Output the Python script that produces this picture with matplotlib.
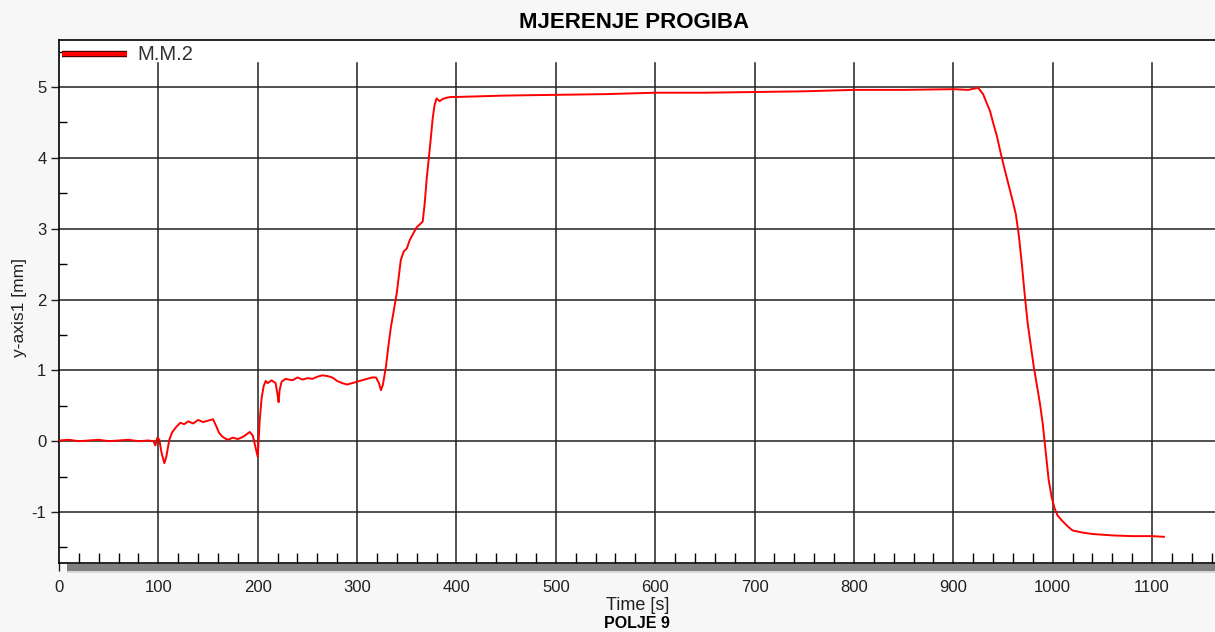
import matplotlib
matplotlib.use("Agg")
import matplotlib.pyplot as plt
import matplotlib.patheffects as pe
from matplotlib.patches import Rectangle
from matplotlib.ticker import MultipleLocator

# ---- data ----
time_s = [0, 10, 20, 30, 40, 50, 60, 70, 80, 90, 95, 97, 99, 101, 103, 106, 108, 111, 114, 118,
          122, 126, 130, 135, 140, 145, 150, 155, 158, 161, 164, 167, 170, 175, 180, 185, 189,
          192, 195, 198, 200, 202, 204, 206, 208, 210, 214, 218, 220, 221, 222, 224, 228, 235,
          240, 245, 250, 255, 260, 265, 270, 275, 280, 285, 290, 295, 300, 305, 310, 315, 319,
          322, 324, 326, 329, 332, 334, 337, 340, 344, 347, 350, 353, 356, 360, 363, 366, 368,
          370, 372, 374, 376, 378, 380, 383, 386, 390, 395, 400, 450, 500, 550, 600, 650, 700,
          750, 800, 850, 900, 915, 925, 930, 934, 937, 940, 944, 948, 952, 956, 960, 963, 966,
          969, 972, 975, 978, 981, 984, 987, 990, 993, 996, 999, 1002, 1005, 1010, 1015, 1020,
          1030, 1040, 1060, 1080, 1100, 1112]
deflection_mm = [0.01, 0.02, 0.00, 0.01, 0.02, 0.00, 0.01, 0.02, 0.00, 0.01, 0.00, -0.06, 0.05, 0.02, -0.15, -0.31, -0.22, 0.02, 0.13, 0.20,
                 0.26, 0.24, 0.28, 0.25, 0.30, 0.27, 0.29, 0.31, 0.22, 0.12, 0.07, 0.04, 0.02, 0.05, 0.03, 0.06, 0.10,
                 0.13, 0.08, -0.10, -0.22, 0.30, 0.62, 0.78, 0.85, 0.82, 0.86, 0.82, 0.65, 0.55, 0.72, 0.84, 0.88, 0.86,
                 0.90, 0.87, 0.89, 0.88, 0.91, 0.93, 0.92, 0.90, 0.85, 0.82, 0.80, 0.82, 0.84, 0.86, 0.88, 0.90, 0.90,
                 0.82, 0.72, 0.80, 1.05, 1.40, 1.61, 1.85, 2.10, 2.56, 2.68, 2.72, 2.84, 2.92, 3.02, 3.06, 3.10, 3.35,
                 3.70, 3.97, 4.25, 4.55, 4.75, 4.84, 4.80, 4.83, 4.85, 4.86, 4.86, 4.88, 4.89, 4.90, 4.92, 4.92, 4.93,
                 4.94, 4.96, 4.96, 4.97, 4.96, 4.99, 4.90, 4.76, 4.66, 4.50, 4.30, 4.05, 3.82, 3.60, 3.38, 3.20, 2.90,
                 2.50, 2.05, 1.65, 1.35, 1.05, 0.80, 0.55, 0.25, -0.15, -0.55, -0.79, -0.95, -1.05, -1.13, -1.20, -1.26,
                 -1.29, -1.31, -1.33, -1.34, -1.34, -1.35]
x_major = [0, 100, 200, 300, 400, 500, 600, 700, 800, 900, 1000, 1100]
y_major = [-1, 0, 1, 2, 3, 4, 5]
series_label = "M.M.2"

plt.rcParams['font.family'] = ['Liberation Sans', 'DejaVu Sans']
plt.rcParams['axes.unicode_minus'] = False

W, H = 1215, 632
fig = plt.figure(figsize=(W / 100, H / 100), dpi=100, facecolor="#f7f7f7")

L, R, T, B = 59, 1215, 40, 563
ax = fig.add_axes([L / W, 1 - B / H, (R - L) / W, (B - T) / H])
ax.set_facecolor("white")

x0px, xscale = 58.6, 0.994
ax.set_xlim(0, (R - x0px) / xscale)
y0px, yscale = 441.2, 70.83
ax.set_ylim((y0px - B) / yscale, (y0px - T) / yscale)

# grid
for yv in y_major:
    ax.axhline(yv, color="#202020", lw=1.1, zorder=1)
vtop = (B - 63) / (B - T)
for xv in x_major[1:]:
    ax.axvline(xv, ymin=0, ymax=vtop, color="#202020", lw=1.1, zorder=1)

ax.plot(time_s, deflection_mm, color="#ff0000", lw=1.4, zorder=3)

# ticks
ax.set_xticks(x_major)
ax.set_yticks(y_major)
ax.xaxis.set_minor_locator(MultipleLocator(20))
ax.yaxis.set_minor_locator(MultipleLocator(0.5))
ax.tick_params(axis='x', which='major', direction='out', length=6, width=1, pad=6,
               labelsize=12, colors="#202020")
ax.tick_params(axis='x', which='minor', direction='in', length=7, width=1)
ax.tick_params(axis='y', which='major', direction='out', length=6, width=1, pad=3,
               labelsize=12, colors="#202020")
ax.tick_params(axis='y', which='minor', direction='in', length=6, width=1)
for s in ax.spines.values():
    s.set_color("black")
    s.set_linewidth(1.2)
ax.spines['right'].set_visible(False)

# scrollbar-like band under x axis
fig.patches.append(Rectangle((67 / W, 1 - 571 / H), (W - 67) / W, 7 / H,
                             transform=fig.transFigure, facecolor="#808080",
                             edgecolor="none", zorder=5))
fig.patches.append(Rectangle((67 / W, 1 - 573 / H), (W - 67) / W, 2 / H,
                             transform=fig.transFigure, facecolor="#d8d8d8",
                             edgecolor="none", zorder=5))

# legend
ax.plot([(62 - L) / (R - L), (127 - L) / (R - L)],
        [1 - (54 - T) / (B - T)] * 2, transform=ax.transAxes,
        color="#ff0000", lw=3, solid_capstyle='butt', zorder=6,
        path_effects=[pe.Stroke(linewidth=4.6, foreground="#400000"), pe.Normal()])
ax.text((137 - L) / (R - L), 1 - (54 - T) / (B - T), series_label, transform=ax.transAxes,
        ha='left', va='center', fontsize=14.5, color="#303030")

fig.text(634 / W, 1 - 22 / H, "MJERENJE PROGIBA", ha='center', va='center',
         fontsize=16, fontweight='bold')
fig.text(638 / W, 1 - 605 / H, "Time [s]", ha='center', va='center', fontsize=13,
         color="#202020")
fig.text(637 / W, 1 - 624 / H, "POLJE 9", ha='center', va='center', fontsize=11.5,
         fontweight='bold')
fig.text(20 / W, 1 - 308 / H, "y-axis1 [mm]", ha='center', va='center', fontsize=12.5,
         rotation=90, color="#202020")

fig.savefig("out.png", dpi=100, facecolor=fig.get_facecolor())
